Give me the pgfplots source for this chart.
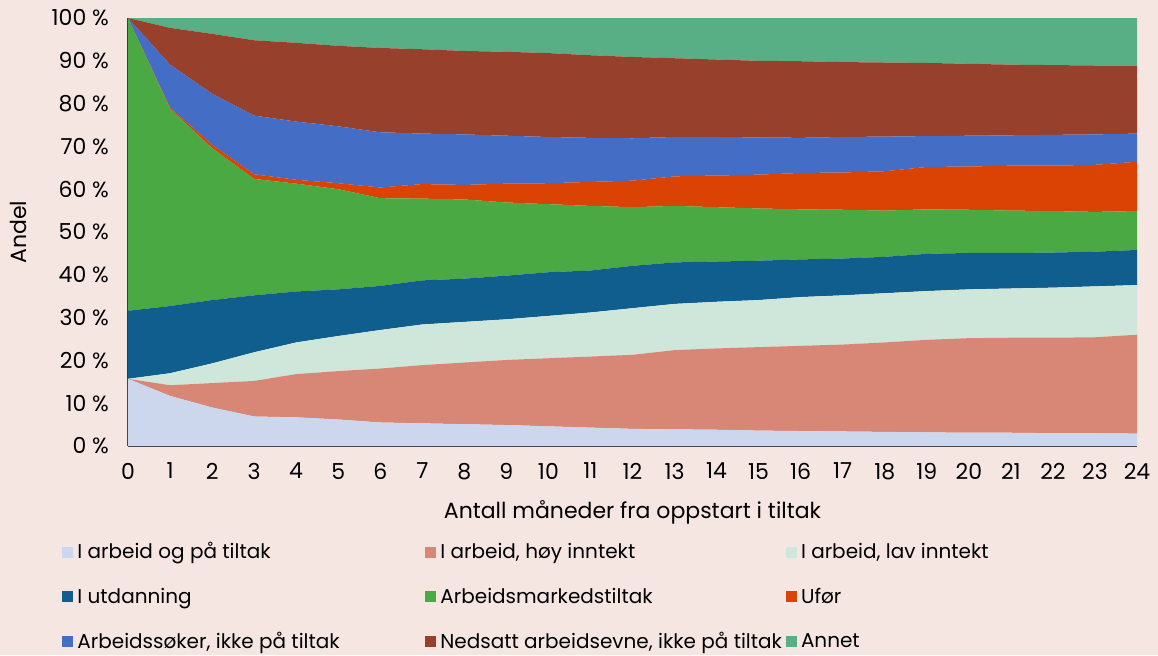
\documentclass[border=0pt]{standalone}
\usepackage{pgfplots}
\usepackage{pgfplotstable}
\pgfplotsset{compat=1.18}
\usepackage{fontspec}
\setmainfont{Poppins}

\definecolor{bg}{HTML}{F5E6E2}
\definecolor{cLB}{HTML}{CCD7EE}
\definecolor{cPK}{HTML}{D88776}
\definecolor{cLG}{HTML}{CEE7DA}
\definecolor{cDB}{HTML}{0F5E8E}
\definecolor{cGR}{HTML}{4AA943}
\definecolor{cOR}{HTML}{DB4304}
\definecolor{cBL}{HTML}{446DC5}
\definecolor{cBR}{HTML}{97402C}
\definecolor{cAN}{HTML}{58AF86}

% shares in percent, month by month
\pgfplotstableread{
m  lb   pk   lg   db   gr   or   bl   br   an
0  15.7 0.0  0.0  15.9 68.4 0.0  0.0  0.0  0.0
1  11.7 2.5  2.8  15.7 46.1 0.3  10.0 8.6  2.3
2  9.0  5.7  4.6  14.8 35.5 0.8  11.9 14.0 3.7
3  6.9  8.3  6.7  13.3 27.2 1.1  13.7 17.6 5.2
4  6.7  10.1 7.4  11.9 25.2 0.9  13.6 18.4 5.8
5  6.2  11.3 8.2  10.9 23.4 1.4  13.3 18.8 6.5
6  5.5  12.6 9.0  10.3 20.5 2.5  12.9 19.7 7.0
7  5.3  13.6 9.5  10.3 19.1 3.4  11.8 19.7 7.3
8  5.1  14.4 9.5  10.1 18.5 3.4  11.8 19.5 7.7
9  4.9  15.2 9.5  10.2 17.1 4.4  11.2 19.6 7.9
10 4.6  15.9 9.9  10.2 15.9 4.9  10.8 19.6 8.2
11 4.3  16.6 10.3 9.8  15.1 5.6  10.3 19.3 8.7
12 4.0  17.3 10.9 9.9  13.7 6.2  9.9  19.0 9.1
13 3.9  18.5 10.8 9.7  13.2 6.9  9.2  18.4 9.4
14 3.8  19.0 10.9 9.4  12.7 7.4  9.0  18.1 9.7
15 3.6  19.5 11.0 9.2  12.2 7.9  8.7  17.9 10.0
16 3.5  19.9 11.4 8.8  11.7 8.5  8.2  17.9 10.1
17 3.4  20.3 11.5 8.6  11.4 8.7  8.3  17.5 10.3
18 3.3  20.9 11.5 8.5  10.8 9.2  8.1  17.3 10.4
19 3.2  21.6 11.4 8.7  10.4 9.9  7.2  17.1 10.5
20 3.1  22.1 11.4 8.5  10.1 10.1 7.2  16.8 10.7
21 3.1  22.2 11.5 8.3  9.9  10.5 7.1  16.5 10.9
22 3.0  22.3 11.7 8.2  9.7  10.6 7.2  16.3 11.0
23 3.0  22.4 11.9 8.1  9.3  11.0 7.1  16.1 11.1
24 2.9  23.1 11.6 8.2  9.1  11.5 6.6  15.9 11.1
}\data

\begin{document}
\begin{tikzpicture}
\fill[bg] (-64pt,-104.5pt) rectangle (515pt,223pt);
\begin{axis}[
	scale only axis,
	width=504.5pt, height=214pt,
	xmin=0, xmax=24, ymin=0, ymax=100,
	stack plots=y,
	axis x line*=bottom, axis y line*=left,
	axis line style={color=black!80, line width=1pt},
	major tick length=0pt,
	xtick={0,1,...,24},
	ytick={0,10,...,100},
	/pgf/number format/assume math mode=true,
	yticklabel={\pgfmathprintnumber{\tick} \%},
	tick label style={font=\fontsize{11}{13}\selectfont, text=black},
	yticklabel style={xshift=-6pt},
	xticklabel style={yshift=-5pt},
	xlabel={Antall måneder fra oppstart i tiltak},
	ylabel={Andel},
	label style={font=\fontsize{11}{13}\selectfont},
	xlabel style={yshift=-3.5pt},
	ylabel style={yshift=5.5pt},
	legend columns=3,
	legend cell align=left,
	legend style={draw=none, fill=none, at={(-0.0654,-0.2150)}, anchor=north west,
		font=\fontsize{10}{12}\selectfont,
		/tikz/every even column/.append style={column sep=0pt},
		row sep=9pt, inner sep=0pt},
	legend image code/.code={\fill[#1] (0pt,-2.75pt) rectangle (5.5pt,2.75pt);},
]
\addplot[fill=cLB, draw=none] table[x=m, y=lb] {\data} \closedcycle;
\addlegendentry{\makebox[172pt][l]{I arbeid og på tiltak}}
\addplot[fill=cPK, draw=none] table[x=m, y=pk] {\data} \closedcycle;
\addlegendentry{\makebox[168pt][l]{I arbeid, høy inntekt}}
\addplot[fill=cLG, draw=none] table[x=m, y=lg] {\data} \closedcycle;
\addlegendentry{I arbeid, lav inntekt}
\addplot[fill=cDB, draw=none] table[x=m, y=db] {\data} \closedcycle;
\addlegendentry{I utdanning}
\addplot[fill=cGR, draw=none] table[x=m, y=gr] {\data} \closedcycle;
\addlegendentry{Arbeidsmarkedstiltak}
\addplot[fill=cOR, draw=none] table[x=m, y=or] {\data} \closedcycle;
\addlegendentry{Ufør}
\addplot[fill=cBL, draw=none] table[x=m, y=bl] {\data} \closedcycle;
\addlegendentry{Arbeidssøker, ikke på tiltak}
\addplot[fill=cBR, draw=none] table[x=m, y=br] {\data} \closedcycle;
\addlegendentry{Nedsatt arbeidsevne, ikke på tiltak}
\addplot[fill=cAN, draw=none] table[x=m, y=an] {\data} \closedcycle;
\addlegendentry{Annet}
\end{axis}
\pgfresetboundingbox
\useasboundingbox (-64pt,-104.5pt) rectangle (515pt,223pt);
\end{tikzpicture}
\end{document}
